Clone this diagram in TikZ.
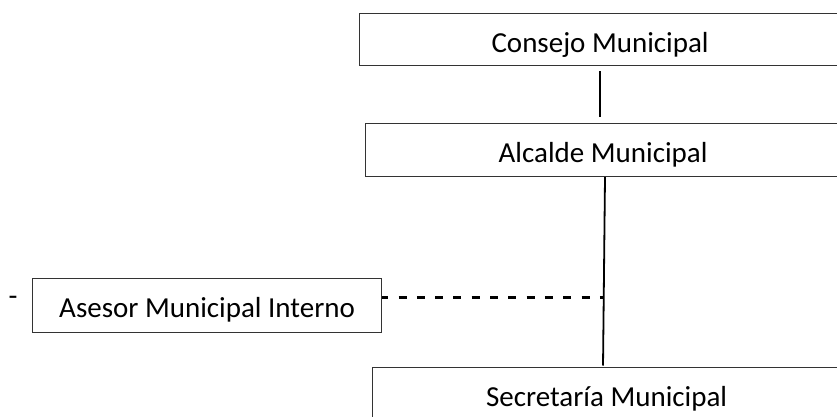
\documentclass[tikz,border=0pt]{standalone}
\usepackage{fontspec}
\setmainfont{Carlito}
\begin{document}
\begin{tikzpicture}[x=1pt,y=-1pt,
  unit/.style={draw=black!80, line width=1.2pt, inner xsep=0pt, inner ysep=0pt,
    text height=39pt, anchor=north west, font=\fontsize{29}{34}\selectfont},
  link/.style={line width=1.8pt},
  advice/.style={line width=3pt, dash pattern=on 8pt off 10.3pt, dash phase=2pt}]
\useasboundingbox (0,0) rectangle (837,417);
\clip (0,0) rectangle (837,417);

% organisation units
\node[unit, minimum width=481pt, text depth=13pt] (cons) at (359,13) {Consejo Municipal};
\node[unit, minimum width=475pt, text depth=14pt] (alc) at (365,123) {Alcalde Municipal};
\node[unit, minimum width=349pt, text depth=15pt] (ase) at (32,278) {Asesor Municipal Interno};
\node[unit, minimum width=468pt, text depth=20pt] (sec) at (372,367) {Secretaría Municipal};
\node[font=\fontsize{29}{34}\selectfont, inner sep=0pt, anchor=base] (mark) at (13,305) {-};

% line positions
\coordinate (c1) at (600,0);
\coordinate (c2) at (605,0);
\coordinate (c3) at (603,0);
\coordinate (j) at (603.5,297);

% hierarchy
\draw[link, shorten <=5pt, shorten >=6pt] (cons.south -| c1) -- (alc.north -| c1);
\draw[link, shorten >=1.5pt] (alc.south -| c2) -- (sec.north -| c3);

% advisory link
\draw[advice] (ase.east |- j) -- (j);
\end{tikzpicture}
\end{document}
